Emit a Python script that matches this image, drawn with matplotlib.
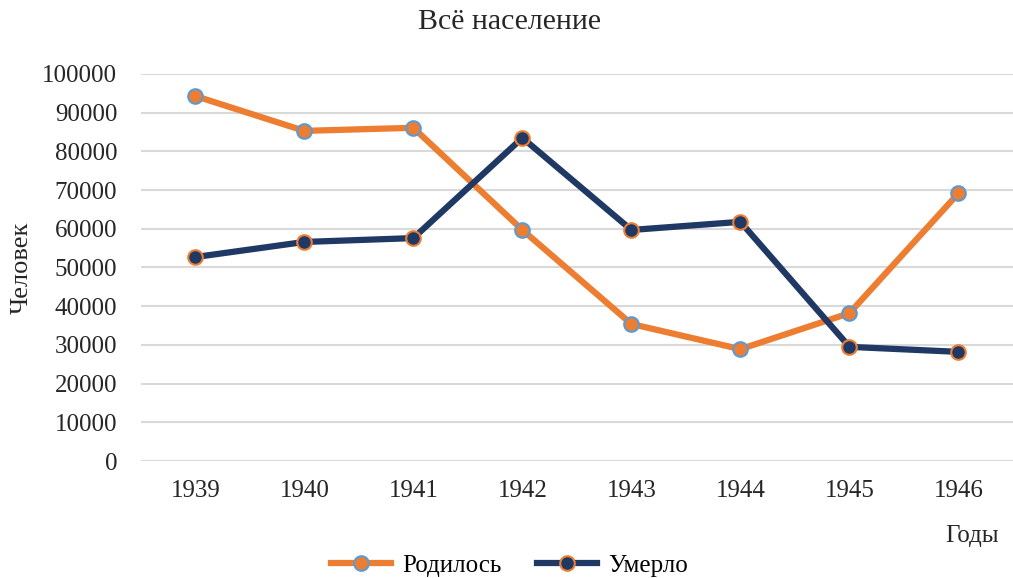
import matplotlib.pyplot as plt

years = ['1939', '1940', '1941', '1942', '1943', '1944', '1945', '1946']
born = [94300, 85300, 86100, 59700, 35400, 28900, 38200, 69200]
died = [52700, 56600, 57600, 83500, 59700, 61800, 29500, 28200]

plt.rcParams['font.family'] = ['Liberation Serif', 'DejaVu Serif']

fig = plt.figure(figsize=(10.13, 5.78), dpi=100)
ax = fig.add_axes([0.139, 0.2024, 0.861, 0.6696])

x = range(len(years))
ax.plot(x, born, color='#ED7D31', lw=4.5, marker='o', ms=10.5,
        mfc='#ED7D31', mec='#5B9BD5', mew=1.5, label='Родилось', zorder=3)
ax.plot(x, died, color='#1F3864', lw=4.5, marker='o', ms=10.5,
        mfc='#1F3864', mec='#ED7D31', mew=1.5, label='Умерло', zorder=3)

ax.set_xlim(-0.5, len(years) - 0.5)
ax.set_ylim(0, 100000)
ax.set_yticks(range(0, 100001, 10000))
ax.set_xticks(list(x))
ax.set_xticklabels(years)
ax.tick_params(length=0, labelsize=18, colors='#262626')
ax.tick_params(axis='y', pad=17)
ax.tick_params(axis='x', pad=14)
ax.grid(axis='y', color='#D9D9D9', lw=1.5)
ax.set_axisbelow(True)
for s in ax.spines.values():
    s.set_visible(False)

fig.text(0.503, 0.962, 'Всё население', fontsize=21.5, color='#262626', ha='center', va='center')
fig.text(0.021, 0.536, 'Человек', fontsize=19, color='#262626', rotation=90,
         ha='center', va='center')
fig.text(0.986, 0.073, 'Годы', fontsize=18, color='#262626', ha='right', va='center')

fig.legend(*ax.get_legend_handles_labels(), loc='center', bbox_to_anchor=(0.503, 0.022),
           ncol=2, frameon=False, fontsize=18, handlelength=2.4, columnspacing=1.4,
           handletextpad=0.45, borderpad=0)

fig.savefig('out.png', dpi=100)
